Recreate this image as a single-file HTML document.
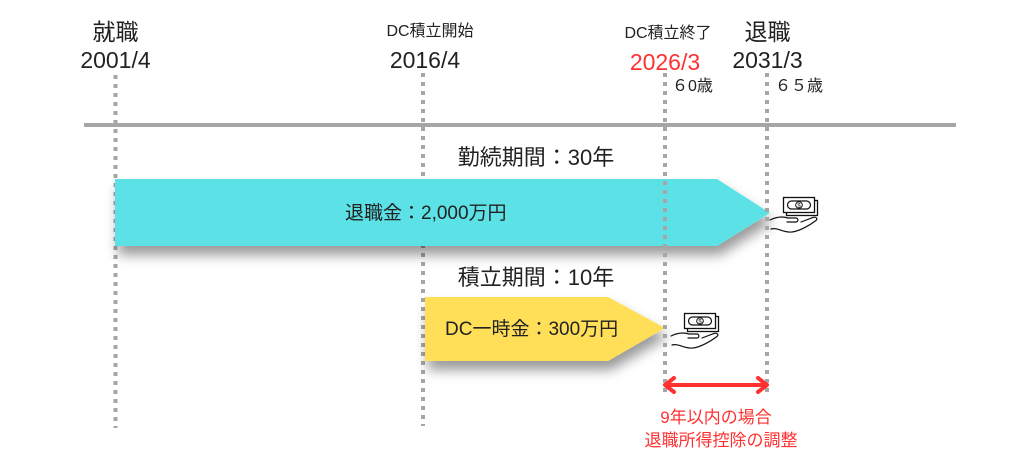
<!DOCTYPE html>
<html>
<head>
<meta charset="utf-8">
<style>
html,body{margin:0;padding:0;background:#fff;}
body{width:1024px;height:476px;overflow:hidden;}
svg{display:block;}
text{font-family:"Liberation Sans","Noto Sans CJK JP",sans-serif;}
</style>
</head>
<body>
<svg width="1024" height="476" viewBox="0 0 1024 476" xmlns="http://www.w3.org/2000/svg">
  <defs>
    <filter id="sh" x="-10%" y="-30%" width="130%" height="180%">
      <feDropShadow dx="3" dy="9" stdDeviation="6" flood-color="#000" flood-opacity="0.4"/>
    </filter>
    <g id="money">
      <rect x="16.5" y="3.5" width="31" height="15" fill="#fff" stroke="#111" stroke-width="1.3"/>
      <rect x="13.5" y="0.5" width="31" height="15" fill="#fff" stroke="#111" stroke-width="1.3"/>
      <rect x="17.5" y="4" width="23" height="8" rx="4" fill="none" stroke="#111" stroke-width="1.2"/>
      <circle cx="29" cy="8" r="3.3" fill="#fff" stroke="#111" stroke-width="1"/>
      <text x="29" y="10.3" font-size="6" text-anchor="middle" fill="#111">$</text>
      <path d="M0 23 C6 20 12 19 18 21 L26 21 C28.5 21 28.5 25 26 25 L17 25" fill="none" stroke="#111" stroke-width="1.2" stroke-linecap="round"/>
      <path d="M1 32 C8 30 13 36 22 35 C30 34 40 28 46 23.5 C48 21.5 46 19.5 43 20.5 L31 25" fill="none" stroke="#111" stroke-width="1.2" stroke-linecap="round"/>
    </g>
  </defs>

  <!-- timeline -->
  <line x1="84" y1="125" x2="956" y2="125" stroke="#a6a6a6" stroke-width="4"/>

  <!-- dotted lines behind -->
  <line x1="115.5" y1="75" x2="115.5" y2="428" stroke="#a6a6a6" stroke-width="4" stroke-dasharray="4 5"/>
  <line x1="423" y1="73" x2="423" y2="426" stroke="#a6a6a6" stroke-width="4" stroke-dasharray="4 5"/>

  <!-- arrows -->
  <polygon points="115,179 717,179 770,213 717,246 115,246" fill="#5ce1e6" filter="url(#sh)"/>
  <polygon points="425,297 608,297 665,328 608,361 425,361" fill="#ffde59" filter="url(#sh)"/>

  <!-- dotted lines front -->
  <line x1="665" y1="73" x2="665" y2="392" stroke="#a6a6a6" stroke-width="4" stroke-dasharray="4 5"/>
  <line x1="767" y1="73" x2="767" y2="392" stroke="#a6a6a6" stroke-width="4" stroke-dasharray="4 5"/>

  <!-- top labels -->
  <text x="115.5" y="40" font-size="23" text-anchor="middle" fill="#222">就職</text>
  <text x="115.5" y="68" font-size="23" text-anchor="middle" fill="#222">2001/4</text>

  <text x="430" y="36" font-size="16" text-anchor="middle" fill="#222">DC積立開始</text>
  <text x="425" y="68" font-size="23" text-anchor="middle" fill="#222">2016/4</text>

  <text x="668" y="38" font-size="16" text-anchor="middle" fill="#222">DC積立終了</text>
  <text x="665" y="70" font-size="23" text-anchor="middle" fill="#ff3131">2026/3</text>
  <text x="672" y="91" font-size="16" fill="#222">６0歳</text>

  <text x="767.5" y="40" font-size="23" text-anchor="middle" fill="#222">退職</text>
  <text x="767.5" y="68" font-size="23" text-anchor="middle" fill="#222">2031/3</text>
  <text x="775" y="91" font-size="16" fill="#222">６５歳</text>

  <!-- period labels -->
  <text x="536" y="165" font-size="22" text-anchor="middle" fill="#222">勤続期間：30年</text>
  <text x="536" y="285" font-size="22" text-anchor="middle" fill="#222">積立期間：10年</text>

  <!-- arrow labels -->
  <text x="345" y="219" font-size="19" fill="#222">退職金：2,000万円</text>
  <text x="445" y="335" font-size="19" fill="#222">DC一時金：300万円</text>

  <!-- icons -->
  <use href="#money" x="770" y="197"/>
  <use href="#money" x="671" y="313"/>

  <!-- red double arrow -->
  <line x1="667" y1="385" x2="765" y2="385" stroke="#ff3131" stroke-width="4"/>
  <polyline points="674,378 665,385 674,392" fill="none" stroke="#ff3131" stroke-width="4" stroke-linecap="round" stroke-linejoin="round"/>
  <polyline points="758,378 767,385 758,392" fill="none" stroke="#ff3131" stroke-width="4" stroke-linecap="round" stroke-linejoin="round"/>

  <text x="716" y="423" font-size="17" text-anchor="middle" fill="#ff3131">9年以内の場合</text>
  <text x="721" y="446" font-size="17" text-anchor="middle" fill="#ff3131">退職所得控除の調整</text>
</svg>
</body>
</html>
